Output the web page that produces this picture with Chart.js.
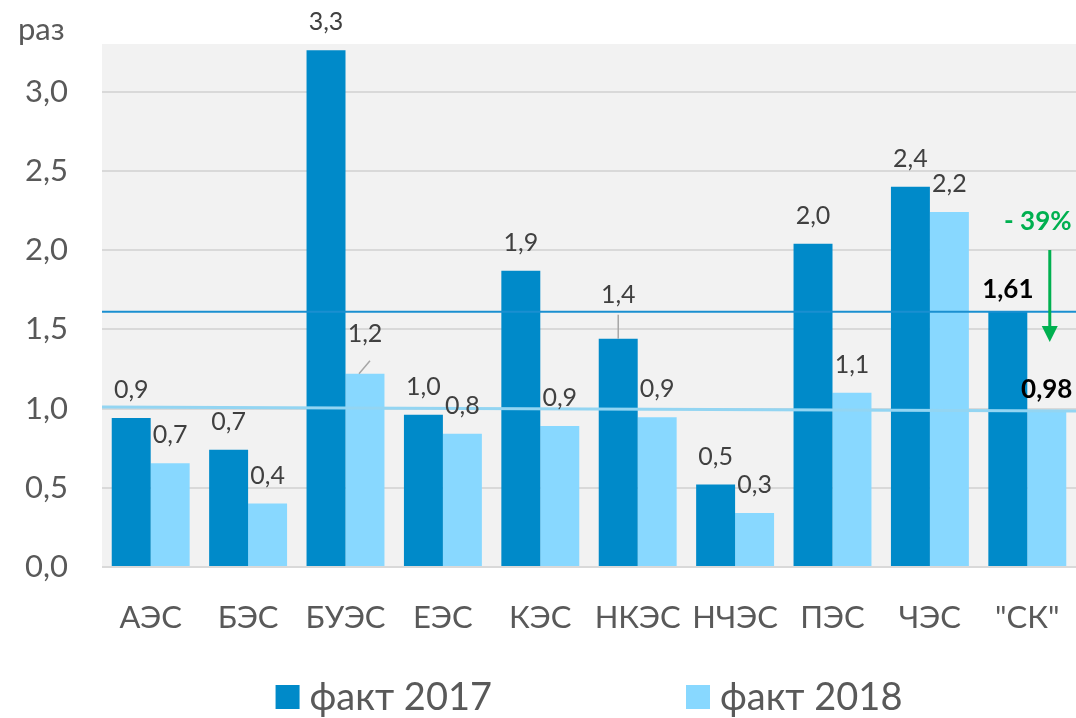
<!DOCTYPE html>
<html>
<head>
<meta charset="utf-8">
<script src="https://cdn.jsdelivr.net/npm/chart.js@4.4.1/dist/chart.umd.min.js"></script>
<style>
  html, body { margin: 0; padding: 0; background: #fff; }
  #wrap { width: 1076px; height: 718px; }
</style>
</head>
<body>
<div id="wrap"><canvas id="ratioChart"></canvas></div>
<script>
let categories = ["АЭС", "БЭС", "БУЭС", "ЕЭС", "КЭС", "НКЭС", "НЧЭС", "ПЭС", "ЧЭС", "\"СК\""];
let fact2017 = [0.94, 0.74, 3.26, 0.96, 1.87, 1.44, 0.52, 2.04, 2.40, 1.61];
let fact2018 = [0.655, 0.40, 1.22, 0.84, 0.89, 0.945, 0.34, 1.10, 2.24, 0.98];
let seriesNames = ["факт 2017", "факт 2018"];
let yTicks = [0, 0.5, 1.0, 1.5, 2.0, 2.5, 3.0];
let avg2017 = [1.61, 1.61];
let avg2018 = [1.01, 0.985];
let unitLabel = "раз";

let colour2017 = "#008ac9";
let colour2018 = "#88d8ff";
let fontName = "Lato, 'DejaVu Sans', sans-serif";

function fmt(v, d) {
    return v.toFixed(d).replace(".", ",");
}

let plotBackground = {
    id: "plotBackground",
    beforeDraw: function (chart) {
        let a = chart.chartArea;
        let ctx = chart.ctx;
        ctx.save();
        ctx.fillStyle = "#f2f2f2";
        ctx.fillRect(a.left, a.top, a.right - a.left, a.bottom - a.top);
        ctx.restore();
    }
};

let extras = {
    id: "extras",
    afterDatasetsDraw: function (chart) {
        let ctx = chart.ctx;
        let a = chart.chartArea;
        let y = chart.scales.y;
        ctx.save();

        // average lines
        ctx.lineWidth = 2;
        ctx.strokeStyle = "#1a8fd0";
        ctx.beginPath();
        ctx.moveTo(a.left, y.getPixelForValue(avg2017[0]));
        ctx.lineTo(a.right, y.getPixelForValue(avg2017[1]));
        ctx.stroke();
        ctx.lineWidth = 3;
        ctx.strokeStyle = "#93d5f2";
        ctx.beginPath();
        ctx.moveTo(a.left, y.getPixelForValue(avg2018[0]));
        ctx.lineTo(a.right, y.getPixelForValue(avg2018[1]));
        ctx.stroke();

        // value labels
        let last = categories.length - 1;
        ctx.textAlign = "center";
        ctx.textBaseline = "alphabetic";
        [0, 1].forEach(function (ds) {
            let meta = chart.getDatasetMeta(ds);
            let values = chart.data.datasets[ds].data;
            meta.data.forEach(function (bar, i) {
                let v = values[i];
                if (i === last) {
                    ctx.font = "bold 26px " + fontName;
                    ctx.fillStyle = "#000";
                    ctx.fillText(fmt(v, 2), bar.x, bar.y - 14);
                    return;
                }
                ctx.font = "25px " + fontName;
                ctx.fillStyle = "#404040";
                let lift = 20;
                if (ds === 0 && i === 5) {
                    lift = 36;
                    ctx.strokeStyle = "#a6a6a6";
                    ctx.lineWidth = 1.5;
                    ctx.beginPath();
                    ctx.moveTo(bar.x, bar.y);
                    ctx.lineTo(bar.x, bar.y - 24);
                    ctx.stroke();
                }
                if (ds === 1 && i === 2) {
                    lift = 32;
                    ctx.strokeStyle = "#a6a6a6";
                    ctx.lineWidth = 1.5;
                    ctx.beginPath();
                    ctx.moveTo(bar.x - 6, bar.y);
                    ctx.lineTo(bar.x + 5, bar.y - 13);
                    ctx.stroke();
                }
                ctx.fillText(fmt(v, 1), bar.x, bar.y - lift);
            });
        });

        // change annotation
        let b2 = chart.getDatasetMeta(1).data[last];
        let change = Math.round((fact2018[last] / fact2017[last] - 1) * 100);
        let ax = b2.x + 3;
        let top = y.getPixelForValue(2.0);
        let tip = y.getPixelForValue(1.42);
        ctx.strokeStyle = "#00b050";
        ctx.fillStyle = "#00b050";
        ctx.lineWidth = 3;
        ctx.beginPath();
        ctx.moveTo(ax, top);
        ctx.lineTo(ax, tip - 14);
        ctx.stroke();
        ctx.beginPath();
        ctx.moveTo(ax - 8, tip - 16);
        ctx.lineTo(ax + 8, tip - 16);
        ctx.lineTo(ax, tip);
        ctx.closePath();
        ctx.fill();
        ctx.font = "bold 26px " + fontName;
        ctx.textAlign = "center";
        ctx.fillText("- " + Math.abs(change) + "%", ax - 12, top - 20);

        ctx.restore();
    },
    afterDraw: function (chart) {
        let ctx = chart.ctx;
        let a = chart.chartArea;
        ctx.save();
        ctx.font = "31px " + fontName;
        ctx.fillStyle = "#595959";
        ctx.textAlign = "left";
        ctx.textBaseline = "middle";
        ctx.fillText(unitLabel, 18, 30);

        // legend
        ctx.font = "38px " + fontName;
        let box = 24, gap = 10, itemGap = 194;
        let widths = seriesNames.map(function (n) { return ctx.measureText(n).width; });
        let total = widths[0] + widths[1] + 2 * (box + gap) + itemGap;
        let x = (a.left + a.right) / 2 - total / 2;
        let cy = 697;
        chart.data.datasets.forEach(function (ds, k) {
            ctx.fillStyle = ds.backgroundColor;
            ctx.fillRect(x, cy - box / 2, box, box);
            x += box + gap;
            ctx.fillStyle = "#595959";
            ctx.fillText(ds.label, x, cy + 1);
            x += widths[k] + itemGap;
        });
        ctx.restore();
    }
};

new Chart(document.getElementById("ratioChart"), {
    type: "bar",
    data: {
        labels: categories,
        datasets: [
            { label: seriesNames[0], data: fact2017, backgroundColor: colour2017 },
            { label: seriesNames[1], data: fact2018, backgroundColor: colour2018 }
        ]
    },
    options: {
        responsive: true,
        maintainAspectRatio: false,
        animation: false,
        layout: { padding: { top: 44, left: 0, right: 0, bottom: 0 } },
        datasets: { bar: { categoryPercentage: 0.8, barPercentage: 1.0 } },
        plugins: {
            legend: { display: false },
            tooltip: { enabled: false }
        },
        scales: {
            x: {
                grid: { display: false },
                border: { display: false },
                ticks: {
                    color: "#595959",
                    font: { family: fontName, size: 31 },
                    padding: 24,
                    maxRotation: 0,
                    autoSkip: false
                },
                afterFit: function (s) {
                    s.height = 151;
                    s.paddingLeft = 0;
                    s.paddingRight = 0;
                }
            },
            y: {
                min: 0,
                max: 3.3,
                grid: { color: "#d9d9d9", lineWidth: 2, drawTicks: false },
                border: { display: false },
                ticks: {
                    color: "#595959",
                    font: { family: fontName, size: 31 },
                    padding: 34,
                    callback: function (v) { return fmt(v, 1); }
                },
                afterBuildTicks: function (s) {
                    s.ticks = yTicks.map(function (v) { return { value: v }; });
                },
                afterFit: function (s) {
                    s.width = 102;
                    s.paddingTop = 0;
                    s.paddingBottom = 0;
                }
            }
        }
    },
    plugins: [plotBackground, extras]
});
</script>
</body>
</html>
